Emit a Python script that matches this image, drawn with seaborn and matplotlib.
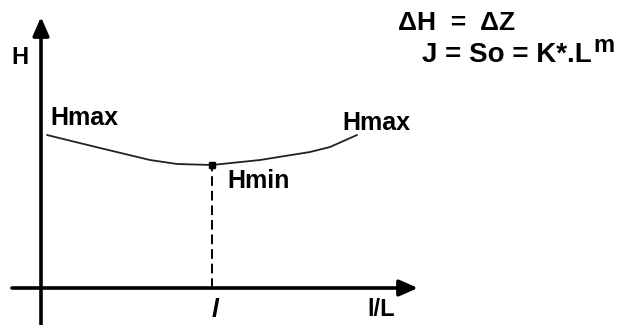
import numpy as np
import pandas as pd
import seaborn as sns
import matplotlib.pyplot as plt

# Head along the reach (schematic, units are arbitrary)
distance = [6, 59, 109, 136, 171, 219, 269, 289, 316]
head = [153, 140, 128, 124, 123, 128, 136, 141, 153]

# Axis extents of the sketch
x_axis = (-29, 377)
y_axis = (-37, 271)

sns.set_style("white")
plt.rcParams["font.family"] = ["Liberation Sans", "DejaVu Sans"]

df = pd.DataFrame({"x": distance, "H": head})

fig = plt.figure(figsize=(6.19, 3.25), dpi=100)
ax = fig.add_axes([0, 0, 1, 1])

# Head curve
sns.lineplot(data=df, x="x", y="H", ax=ax, color="#222222", linewidth=1.3)

# Minimum point with dashed drop line
i_min = int(np.argmin(head))
x_min, h_min = distance[i_min], head[i_min]
ax.plot([x_min, x_min], [0, h_min], color="black", linewidth=1.4,
        linestyle=(0, (5, 2.5)))
ax.plot([x_min], [h_min], marker="s", markersize=4, color="black")
ax.plot([x_min, x_min], [0, 6], color="black", linewidth=1.4)

# Axes drawn as arrows
arrow = dict(arrowstyle="-|>,head_length=0.8,head_width=0.35", lw=2.6,
             color="black", mutation_scale=14, shrinkA=0, shrinkB=0)
ax.annotate("", xy=(x_axis[1], 0), xytext=(x_axis[0], 0), arrowprops=arrow)
ax.annotate("", xy=(0, y_axis[1]), xytext=(0, y_axis[0]), arrowprops=arrow)

# Labels
bold = dict(fontweight="bold", color="black")
ax.text(-21, 231, "H", fontsize=17, ha="center", va="center", **bold)
ax.text(distance[0] + 3, 170, "Hmax", fontsize=18, ha="left", va="center", **bold)
ax.text(301, 165, "Hmax", fontsize=18, ha="left", va="center", **bold)
ax.text(x_min + 15, 107, "Hmin", fontsize=18, ha="left", va="center", **bold)
ax.text(x_min + 3, -22, "l", fontsize=18, ha="center", va="center",
        fontstyle="italic", **bold)
ax.text(326, -22, "l/L", fontsize=17, ha="left", va="center", **bold)
ax.text(357, 265, "\u0394H  =  \u0394Z", fontsize=19, ha="left", va="center", **bold)
ax.text(381, 233, "J = So = K*.L", fontsize=20, ha="left", va="center", **bold)
ax.text(552, 243, "m", fontsize=17, ha="left", va="center", **bold)

ax.set_xlim(-41, 578)
ax.set_ylim(-37, 288)
ax.axis("off")

fig.savefig("out.png", dpi=100)
